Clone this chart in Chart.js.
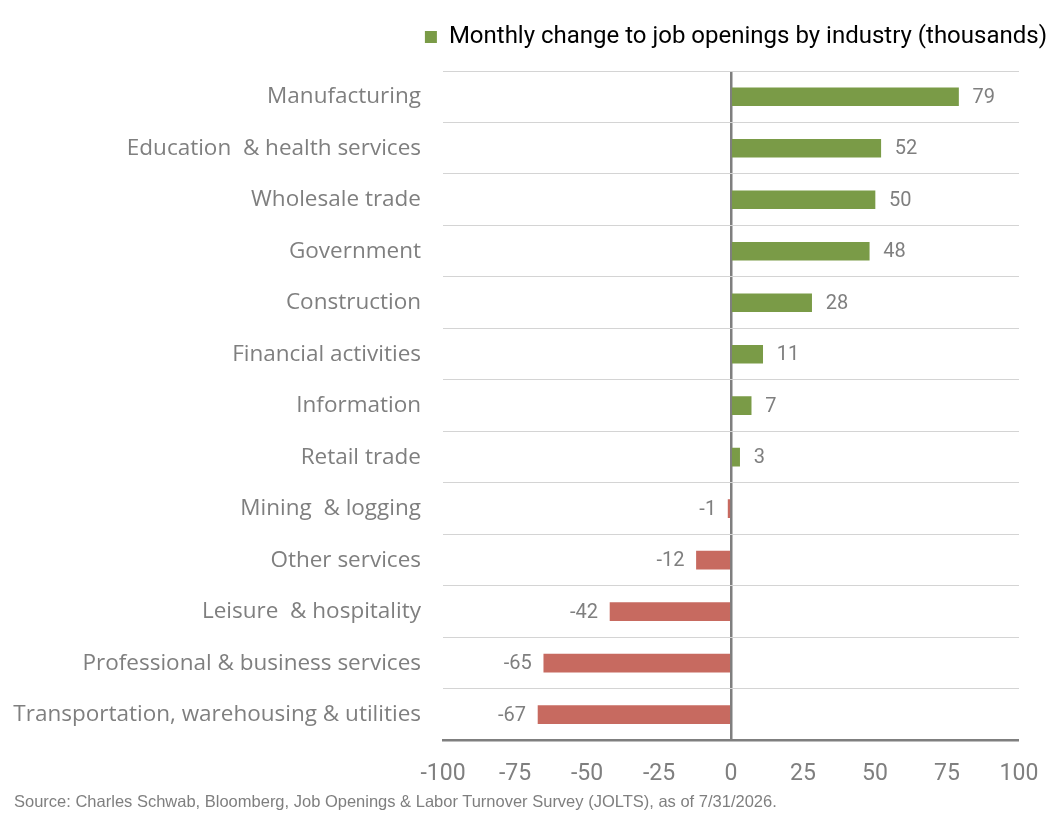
<!DOCTYPE html>
<html lang="en">
<head>
  <meta charset="UTF-8">
  <title>Monthly change to job openings by industry</title>
  <script src="https://cdn.jsdelivr.net/npm/chart.js"></script>
  <style>
    body {
      margin: 0;
      background: #fff;
    }
    .chart-container {
      position: relative;
      width: 1053px;
      height: 808px;
    }
    .source {
      position: absolute;
      left: 14px;
      top: 792px;
      font-family: "Liberation Sans", Arial, sans-serif;
      font-size: 16.5px;
      color: #7f7f7f;
    }
  </style>
</head>
<body>

<div class="chart-container">
  <canvas id="jobsChart"></canvas>
</div>
<div class="source">Source: Charles Schwab, Bloomberg, Job Openings &amp; Labor Turnover Survey (JOLTS), as of 7/31/2026.</div>

<script>
  // Data
  const industries = [
    'Manufacturing',
    'Education  & health services',
    'Wholesale trade',
    'Government',
    'Construction',
    'Financial activities',
    'Information',
    'Retail trade',
    'Mining  & logging',
    'Other services',
    'Leisure  & hospitality',
    'Professional & business services',
    'Transportation, warehousing & utilities'
  ];
  const changes = [79, 52, 50, 48, 28, 11, 7, 3, -1, -12, -42, -65, -67];
  const xTicks = [-100, -75, -50, -25, 0, 25, 50, 75, 100];

  const green = '#7a9b47';
  const red = '#c76a60';
  const gray = '#7f7f7f';

  // value labels next to bar ends
  const valueLabels = {
    id: 'valueLabels',
    afterDatasetsDraw(chart) {
      const ctx = chart.ctx;
      const meta = chart.getDatasetMeta(0);
      ctx.save();
      ctx.font = '20px Roboto, sans-serif';
      ctx.fillStyle = gray;
      ctx.textBaseline = 'middle';
      meta.data.forEach((bar, i) => {
        const v = changes[i];
        if (v >= 0) {
          ctx.textAlign = 'left';
          ctx.fillText(v, bar.x + 14, bar.y + 1);
        } else {
          ctx.textAlign = 'right';
          ctx.fillText(v, bar.x - 12, bar.y + 1);
        }
      });
      ctx.restore();
    }
  };

  // extra room under the legend
  const legendGap = {
    id: 'legendGap',
    beforeInit(chart) {
      const fit = chart.legend.fit;
      chart.legend.fit = function () {
        fit.call(this);
        this.height += 12;
      };
    }
  };

  const ctx = document.getElementById('jobsChart').getContext('2d');
  new Chart(ctx, {
    type: 'bar',
    data: {
      labels: industries,
      datasets: [{
        label: 'Monthly change to job openings by industry (thousands)',
        data: changes,
        backgroundColor: changes.map(v => v >= 0 ? green : red),
        barThickness: 18
      }]
    },
    options: {
      indexAxis: 'y',
      responsive: true,
      maintainAspectRatio: false,
      animation: false,
      layout: {
        padding: { left: 10, right: 4, top: 23, bottom: 0 }
      },
      scales: {
        x: {
          min: -100,
          max: 100,
          afterBuildTicks(scale) {
            scale.ticks = xTicks.map(v => ({ value: v }));
          },
          afterFit(scale) {
            scale.paddingRight = 34;
          },
          ticks: {
            color: gray,
            padding: 20,
            maxRotation: 0,
            font: { family: 'Roboto, sans-serif', size: 23 }
          },
          grid: {
            drawTicks: false,
            color: c => c.tick && c.tick.value === 0 ? gray : 'rgba(0,0,0,0)',
            lineWidth: c => c.tick && c.tick.value === 0 ? 2.5 : 0
          },
          border: { color: gray, width: 2.5 }
        },
        y: {
          afterFit(scale) {
            scale.width = 433;
          },
          ticks: {
            color: gray,
            padding: 22,
            font: { family: '"Open Sans", sans-serif', size: 22.5 }
          },
          grid: {
            drawTicks: false,
            color: '#d4d4d4',
            lineWidth: 1
          },
          border: { display: false }
        }
      },
      plugins: {
        legend: {
          position: 'top',
          align: 'end',
          labels: {
            boxWidth: 12,
            boxHeight: 12,
            padding: 2,
            color: '#1a2b50',
            font: { family: 'Roboto, sans-serif', size: 24 },
            generateLabels: () => [{
              text: 'Monthly change to job openings by industry (thousands)',
              fillStyle: green,
              strokeStyle: green,
              lineWidth: 0,
              datasetIndex: 0
            }]
          }
        },
        tooltip: { enabled: false }
      }
    },
    plugins: [valueLabels, legendGap]
  });
</script>

</body>
</html>
